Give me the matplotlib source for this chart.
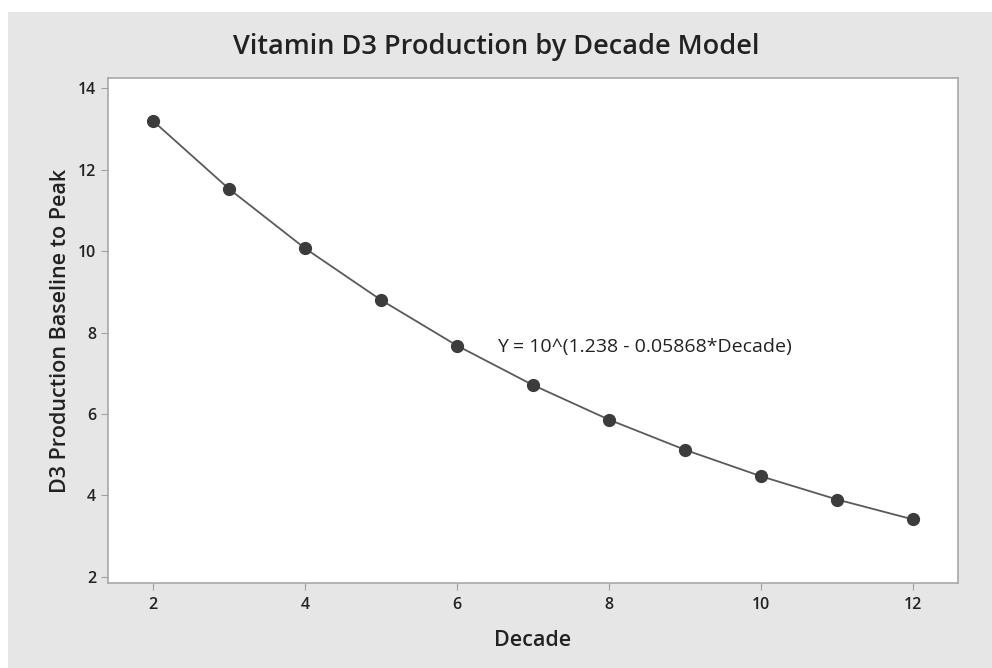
import matplotlib.pyplot as plt
from matplotlib.patches import Rectangle

# Decade values and the fitted D3 production values
decade = [2, 3, 4, 5, 6, 7, 8, 9, 10, 11, 12]
d3 = [13.20, 11.53, 10.07, 8.80, 7.68, 6.71, 5.86, 5.12, 4.47, 3.90, 3.41]
xticks = [2, 4, 6, 8, 10, 12]
yticks = [2, 4, 6, 8, 10, 12, 14]
equation = "Y = 10^(1.238 - 0.05868*Decade)"

plt.rcParams['font.family'] = ['Open Sans', 'DejaVu Sans']

fig = plt.figure(figsize=(9.92, 6.68), dpi=100, facecolor='white')
# grey panel behind the chart
fig.patches.append(Rectangle((8 / 992, 0), 1, (668 - 12) / 668, transform=fig.transFigure,
                             facecolor='#e6e6e6', edgecolor='none', zorder=-10))

ax = fig.add_axes([108 / 992, 1 - 583 / 668, (958 - 108) / 992, (583 - 78) / 668])
ax.set_facecolor('white')
ax.plot(decade, d3, color='#5a5a5a', linewidth=1.3, zorder=2)
ax.plot(decade, d3, 'o', color='#3c3c3c', markersize=8.5, zorder=3)

ax.text(6.53, 7.64, equation, fontsize=14, va='center', ha='left', color='#222222')

ax.set_xlim(1.41, 12.59)
ax.set_ylim(1.85, 14.25)
ax.set_xticks(xticks)
ax.set_yticks(yticks)
ax.tick_params(direction='out', length=5, color='#a0a0a0', labelsize=11.5, labelcolor='#222222')
ax.tick_params(axis='x', pad=5)
for lbl in ax.get_xticklabels() + ax.get_yticklabels():
    lbl.set_fontweight('semibold')
for s in ax.spines.values():
    s.set_color('#a8a8a8')
    s.set_linewidth(1.2)

ax.set_xlabel("Decade", fontsize=15.5, color='#222222', labelpad=12, fontweight='semibold')
ax.set_ylabel("D3 Production Baseline to Peak", fontsize=15.5, color='#222222', labelpad=5,
              fontweight='semibold')
fig.text(0.5, 1 - 47 / 668, "Vitamin D3 Production by Decade Model", fontsize=19.5,
         ha='center', va='center', color='#222222', fontweight='semibold')

fig.savefig("out.png", dpi=100, facecolor=fig.get_facecolor())
